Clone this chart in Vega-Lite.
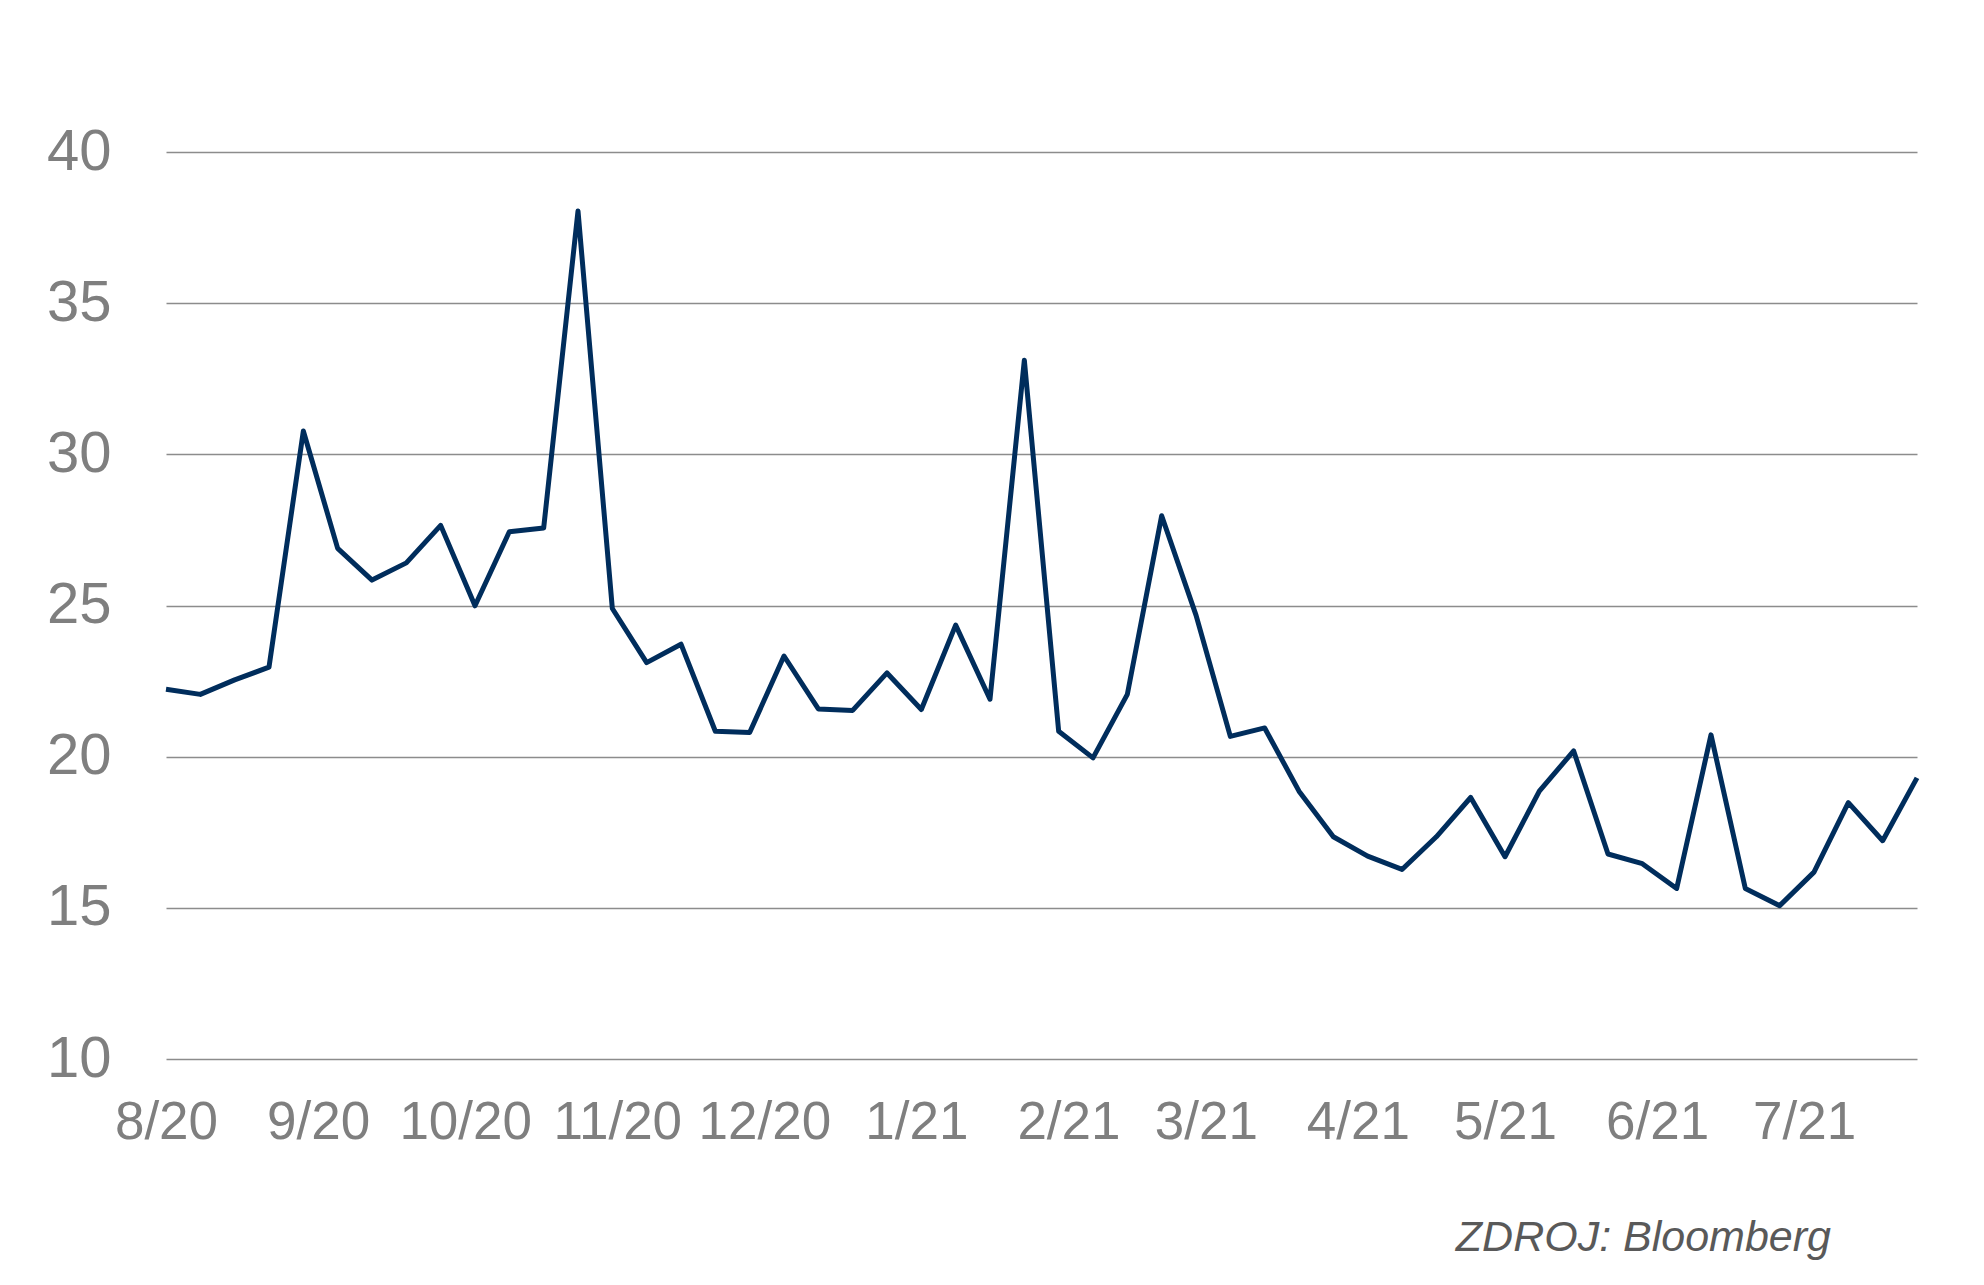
{
  "$schema": "https://vega.github.io/schema/vega-lite/v6.json",
  "width": 1751,
  "height": 907,
  "autosize": {"type": "none"},
  "padding": {"left": 166, "top": 152, "right": 67, "bottom": 226},
  "background": "white",
  "config": {"view": {"stroke": null}, "font": "Liberation Sans"},
  "title": {
    "text": "ZDROJ: Bloomberg",
    "orient": "bottom",
    "anchor": "end",
    "frame": "group",
    "dx": -86,
    "offset": 68,
    "font": "Liberation Sans",
    "fontSize": 43,
    "fontStyle": "italic",
    "fontWeight": "normal",
    "color": "#595959"
  },
  "data": {
    "values": [
      {"date": "2020-08-01T00:00:00", "value": 22.23},
      {"date": "2020-08-08T00:00:00", "value": 22.06},
      {"date": "2020-08-15T00:00:00", "value": 22.54},
      {"date": "2020-08-22T00:00:00", "value": 22.96},
      {"date": "2020-08-29T00:00:00", "value": 30.77},
      {"date": "2020-09-05T00:00:00", "value": 26.89},
      {"date": "2020-09-12T00:00:00", "value": 25.84},
      {"date": "2020-09-19T00:00:00", "value": 26.41},
      {"date": "2020-09-26T00:00:00", "value": 27.65},
      {"date": "2020-10-03T00:00:00", "value": 24.99},
      {"date": "2020-10-10T00:00:00", "value": 27.44},
      {"date": "2020-10-17T00:00:00", "value": 27.56},
      {"date": "2020-10-24T00:00:00", "value": 38.05},
      {"date": "2020-10-31T00:00:00", "value": 24.90},
      {"date": "2020-11-07T00:00:00", "value": 23.11},
      {"date": "2020-11-14T00:00:00", "value": 23.72},
      {"date": "2020-11-21T00:00:00", "value": 20.84},
      {"date": "2020-11-28T00:00:00", "value": 20.80},
      {"date": "2020-12-05T00:00:00", "value": 23.33},
      {"date": "2020-12-12T00:00:00", "value": 21.58},
      {"date": "2020-12-19T00:00:00", "value": 21.53},
      {"date": "2020-12-26T00:00:00", "value": 22.77},
      {"date": "2021-01-02T00:00:00", "value": 21.56},
      {"date": "2021-01-09T00:00:00", "value": 24.35},
      {"date": "2021-01-16T00:00:00", "value": 21.90},
      {"date": "2021-01-23T00:00:00", "value": 33.11},
      {"date": "2021-01-30T00:00:00", "value": 20.84},
      {"date": "2021-02-06T00:00:00", "value": 19.96},
      {"date": "2021-02-13T00:00:00", "value": 22.06},
      {"date": "2021-02-20T00:00:00", "value": 27.97},
      {"date": "2021-02-27T00:00:00", "value": 24.68},
      {"date": "2021-03-06T00:00:00", "value": 20.67},
      {"date": "2021-03-13T00:00:00", "value": 20.95},
      {"date": "2021-03-20T00:00:00", "value": 18.86},
      {"date": "2021-03-27T00:00:00", "value": 17.35},
      {"date": "2021-04-03T00:00:00", "value": 16.71},
      {"date": "2021-04-10T00:00:00", "value": 16.27},
      {"date": "2021-04-17T00:00:00", "value": 17.35},
      {"date": "2021-04-24T00:00:00", "value": 18.65},
      {"date": "2021-05-01T00:00:00", "value": 16.69},
      {"date": "2021-05-08T00:00:00", "value": 18.86},
      {"date": "2021-05-15T00:00:00", "value": 20.19},
      {"date": "2021-05-22T00:00:00", "value": 16.78},
      {"date": "2021-05-29T00:00:00", "value": 16.46},
      {"date": "2021-06-05T00:00:00", "value": 15.64},
      {"date": "2021-06-12T00:00:00", "value": 20.72},
      {"date": "2021-06-19T00:00:00", "value": 15.64},
      {"date": "2021-06-26T00:00:00", "value": 15.07},
      {"date": "2021-07-03T00:00:00", "value": 16.18},
      {"date": "2021-07-10T00:00:00", "value": 18.48},
      {"date": "2021-07-17T00:00:00", "value": 17.22},
      {"date": "2021-07-24T00:00:00", "value": 19.30}
    ]
  },
  "mark": {"type": "line", "color": "#002D5C", "strokeWidth": 5, "strokeJoin": "round"},
  "encoding": {
    "x": {
      "field": "date",
      "type": "temporal",
      "scale": {"domain": ["2020-08-01T00:00:00", "2021-07-24T00:00:00"], "nice": false},
      "axis": {
        "title": null,
        "format": "%-m/%y",
        "tickCount": {"interval": "month", "step": 1},
        "domain": false,
        "ticks": false,
        "grid": false,
        "labelFont": "Liberation Sans",
        "labelFontSize": 53,
        "labelColor": "#7f7f7f",
        "labelPadding": 37,
        "labelOverlap": false,
        "labelFlush": false
      }
    },
    "y": {
      "field": "value",
      "type": "quantitative",
      "scale": {"domain": [10, 40], "nice": false, "zero": false},
      "axis": {
        "title": null,
        "values": [10, 15, 20, 25, 30, 35, 40],
        "domain": false,
        "ticks": false,
        "grid": true,
        "gridColor": "#8c8c8c",
        "gridWidth": 1.5,
        "labelFont": "Liberation Sans",
        "labelFontSize": 58,
        "labelColor": "#7f7f7f",
        "labelPadding": 55
      }
    }
  }
}
